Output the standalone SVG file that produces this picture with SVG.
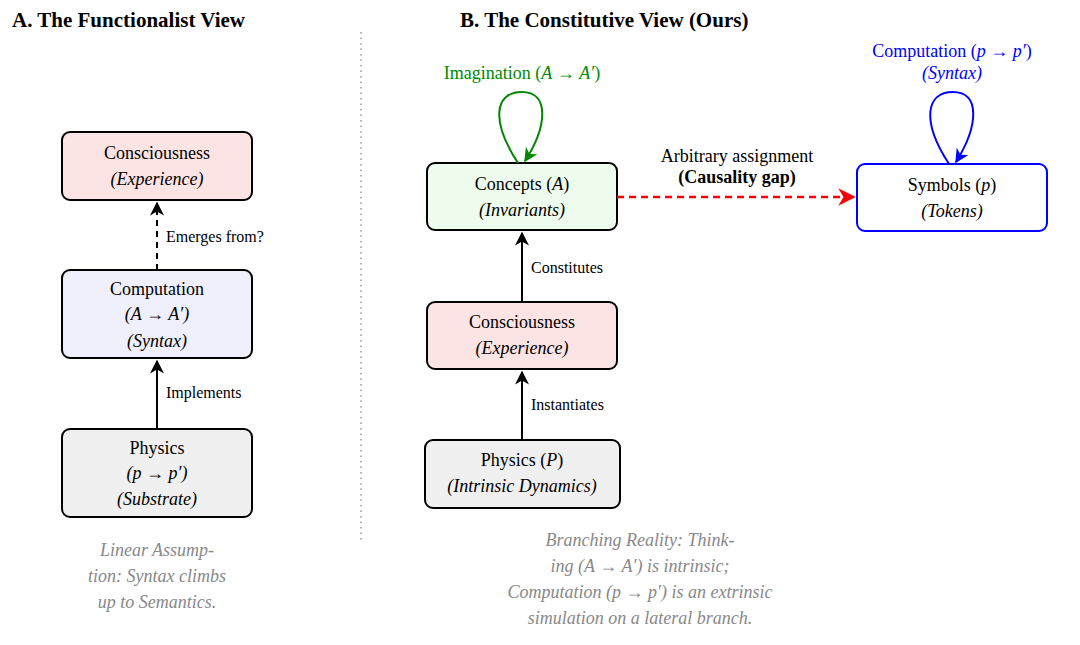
<svg xmlns="http://www.w3.org/2000/svg" width="1080" height="645" viewBox="0 0 1080 645">
<defs>
<style>
text{font-family:"Liberation Serif",serif;font-size:18px;text-anchor:middle;fill:#000}
.i{font-style:italic}
.t{font-size:21px;font-weight:bold;text-anchor:start}
.c{fill:#888;font-style:italic}
.l{text-anchor:start;font-size:16px}
.b{stroke:#000;stroke-width:2}
</style>
<marker id="ak" viewBox="0 0 10 10" refX="9" refY="5" markerWidth="7" markerHeight="7" orient="auto"><path d="M0,0L10,5L0,10L3,5z" fill="#000"/></marker>
<marker id="ar" viewBox="0 0 10 10" refX="9" refY="5" markerWidth="7" markerHeight="7" orient="auto"><path d="M0,0L10,5L0,10L3,5z" fill="#f00"/></marker>
<marker id="ag" viewBox="0 0 10 10" refX="9" refY="5" markerWidth="7" markerHeight="7" orient="auto"><path d="M0,0L10,5L0,10L3,5z" fill="#080"/></marker>
<marker id="ab" viewBox="0 0 10 10" refX="9" refY="5" markerWidth="7" markerHeight="7" orient="auto"><path d="M0,0L10,5L0,10L3,5z" fill="#00f"/></marker>
</defs>
<rect width="1080" height="645" fill="#fff"/>
<text class="t" x="12" y="27">A. The Functionalist View</text>
<text class="t" x="460" y="27">B. The Constitutive View (Ours)</text>
<line x1="361" y1="32" x2="361" y2="542" stroke="#999" stroke-width="1.5" stroke-dasharray="1.5,4"/>
<g id="a-consciousness"><rect class="b" x="62" y="132" width="190" height="68" rx="8" fill="#fde4e4"/><text x="157" y="159">Consciousness</text><text class="i" x="157" y="185">(Experience)</text></g>
<g id="a-computation"><rect class="b" x="62" y="270" width="190" height="88" rx="8" fill="#f0f0fd"/><text x="157" y="295">Computation</text><text class="i" x="157" y="320">(A → A′)</text><text class="i" x="157" y="347">(Syntax)</text></g>
<g id="a-physics"><rect class="b" x="62" y="429" width="190" height="88" rx="8" fill="#f0f0f0"/><text x="157" y="454">Physics</text><text class="i" x="157" y="479">(p → p′)</text><text class="i" x="157" y="505">(Substrate)</text></g>
<g id="b-concepts"><rect class="b" x="427" y="163" width="190" height="67" rx="8" fill="#eefcee"/><text x="522" y="190">Concepts (<tspan class="i">A</tspan>)</text><text class="i" x="522" y="216">(Invariants)</text></g>
<g id="b-consciousness"><rect class="b" x="427" y="302" width="190" height="67" rx="8" fill="#fde4e4"/><text x="522" y="328">Consciousness</text><text class="i" x="522" y="354">(Experience)</text></g>
<g id="b-physics"><rect class="b" x="425" y="440" width="195" height="68" rx="8" fill="#f0f0f0"/><text x="522" y="466">Physics (<tspan class="i">P</tspan>)</text><text class="i" x="522" y="492">(Intrinsic Dynamics)</text></g>
<g id="b-symbols"><rect x="857" y="164" width="190" height="67" rx="8" fill="#fff" stroke="#00f" stroke-width="2"/><text x="952" y="191">Symbols (<tspan class="i">p</tspan>)</text><text class="i" x="952" y="217">(Tokens)</text></g>
<g id="connectors">
<line class="b" x1="157" y1="270" x2="157" y2="203" stroke-dasharray="6,5" marker-end="url(#ak)"/>
<line class="b" x1="157" y1="429" x2="157" y2="361" marker-end="url(#ak)"/>
<line class="b" x1="522" y1="302" x2="522" y2="233" marker-end="url(#ak)"/>
<line class="b" x1="522" y1="440" x2="522" y2="372" marker-end="url(#ak)"/>
<line x1="617" y1="197" x2="854" y2="197" stroke="#f00" stroke-width="2.5" stroke-dasharray="7,5" marker-end="url(#ar)"/>
<path d="M518,163 C490,120 495,92 522,92 C549,92 548,125 525,161" fill="none" stroke="#080" stroke-width="2" marker-end="url(#ag)"/>
<path d="M949,164 C921,121 926,92 953,92 C980,92 979,125 956,162" fill="none" stroke="#00f" stroke-width="2" marker-end="url(#ab)"/>
</g>
<text class="l" x="166" y="242">Emerges from?</text>
<text class="l" x="166" y="398">Implements</text>
<text class="l" x="531" y="273">Constitutes</text>
<text class="l" x="531" y="410">Instantiates</text>
<text x="737" y="162" font-size="16">Arbitrary assignment</text>
<text x="737" y="183" font-size="16" font-weight="bold">(Causality gap)</text>
<text x="522" y="79" fill="#080" style="fill:#080" font-size="16">Imagination (<tspan class="i">A</tspan> → <tspan class="i">A′</tspan>)</text>
<text x="952" y="57" style="fill:#00f" font-size="16">Computation (<tspan class="i">p</tspan> → <tspan class="i">p′</tspan>)</text>
<text class="i" x="952" y="79" style="fill:#00f" font-size="16">(Syntax)</text>
<text class="c" x="157" y="556">Linear Assump-</text>
<text class="c" x="157" y="582">tion:  Syntax climbs</text>
<text class="c" x="157" y="608">up to Semantics.</text>
<text class="c" x="640" y="546">Branching Reality:  Think-</text>
<text class="c" x="640" y="572">ing (A  →  A′) is intrinsic;</text>
<text class="c" x="640" y="598">Computation (p → p′) is an extrinsic</text>
<text class="c" x="640" y="624">simulation on a lateral branch.</text>
</svg>
